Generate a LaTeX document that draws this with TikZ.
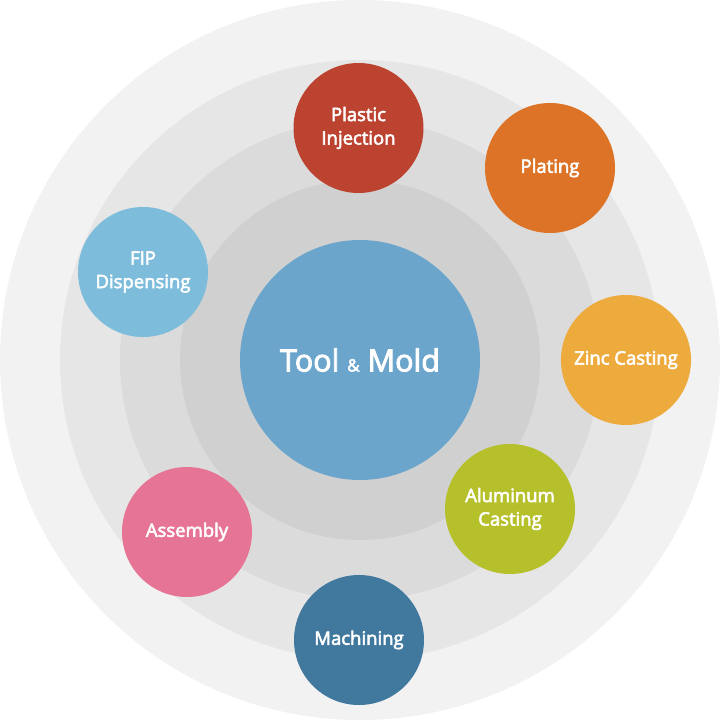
\documentclass[tikz,border=0pt]{standalone}
\usepackage{fontspec}
\setmainfont{Open Sans}[FakeBold=3]
\definecolor{ringA}{HTML}{F2F2F2}
\definecolor{ringB}{HTML}{E6E6E6}
\definecolor{ringC}{HTML}{DBDBDB}
\definecolor{ringD}{HTML}{D0D0D0}
\definecolor{cCenter}{HTML}{6CA5CC}
\definecolor{cPlastic}{HTML}{BB4330}
\definecolor{cPlating}{HTML}{DC7326}
\definecolor{cZinc}{HTML}{EDAB3E}
\definecolor{cAlu}{HTML}{B6C02A}
\definecolor{cMach}{HTML}{41789E}
\definecolor{cAssy}{HTML}{E67595}
\definecolor{cFIP}{HTML}{7DBCDB}
\tikzset{
  ring/.style={circle,draw=none,inner sep=0pt,minimum size=#1},
  proc/.style={circle,draw=none,fill=#1,minimum size=130pt,inner sep=0pt,
    text=white,align=center,font=\fontsize{18.5}{23.5}\selectfont},
}
\begin{document}
\begin{tikzpicture}[x=1pt,y=-1pt]
\useasboundingbox (0,0) rectangle (720,720);
\node[ring=720pt,fill=ringA] (r1) at (360,360) {};
\node[ring=600pt,fill=ringB] (r2) at (360,360) {};
\node[ring=480pt,fill=ringC] (r3) at (360,360) {};
\node[ring=360pt,fill=ringD] (r4) at (360,360) {};
\node[ring=240pt,fill=cCenter,text=white,font=\fontsize{30.5}{36}\selectfont] (center) at (360,360)
  {Tool {\fontsize{17}{20}\selectfont\&} Mold};
\node[proc=cPlastic] (plastic) at (358.5,128) {Plastic\\Injection};
\node[proc=cPlating] (plating) at (550,168) {Plating};
\node[proc=cZinc] (zinc) at (626,360) {Zinc Casting};
\node[proc=cAlu] (alu) at (510,509) {Aluminum\\Casting};
\node[proc=cMach] (mach) at (359,640) {Machining};
\node[proc=cAssy] (assy) at (187,532) {Assembly};
\node[proc=cFIP] (fip) at (143,272) {FIP\\Dispensing};
\end{tikzpicture}
\end{document}
